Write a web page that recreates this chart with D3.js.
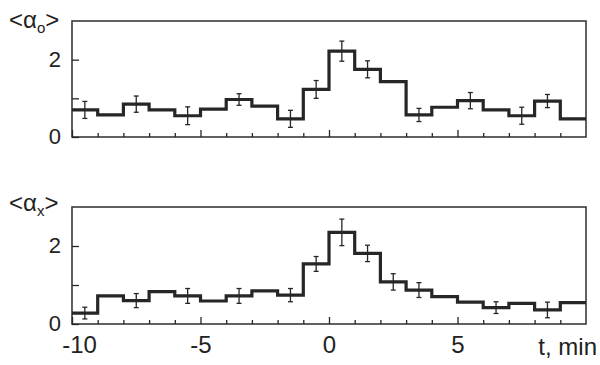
<!DOCTYPE html>
<html>
<head>
<meta charset="utf-8">
<script src="https://cdn.jsdelivr.net/npm/d3@7"></script>
<style>
  html, body { margin: 0; padding: 0; background: #fff; }
  svg { display: block; font-family: "Liberation Sans", Arial, sans-serif; }
</style>
</head>
<body>
<svg id="chart" width="600" height="365"></svg>
<script>
// ---- data ----
const binStarts = [-10, -9, -8, -7, -6, -5, -4, -3, -2, -1, 0, 1, 2, 3, 4, 5, 6, 7, 8, 9];
const binWidth = 1;
const aoValues = [0.70, 0.57, 0.85, 0.70, 0.55, 0.72, 0.97, 0.80, 0.47, 1.23, 2.22, 1.75, 1.43, 0.57, 0.77, 0.94, 0.70, 0.55, 0.93, 0.47];
const aoErrors = [0.22, null, 0.21, null, 0.23, null, 0.15, null, 0.22, 0.23, 0.26, 0.22, null, 0.17, null, 0.21, null, 0.22, 0.17, null];
const axValues = [0.28, 0.72, 0.60, 0.83, 0.72, 0.59, 0.72, 0.85, 0.74, 1.54, 2.35, 1.81, 1.08, 0.87, 0.70, 0.56, 0.42, 0.53, 0.36, 0.55];
const axErrors = [0.15, null, 0.18, null, 0.19, null, 0.19, null, 0.17, 0.19, 0.34, 0.21, 0.21, 0.19, null, null, 0.15, null, 0.20, null];
const xDomain = [-10, 10];
const xMajorTicks = [-10, -5, 0, 5];
const xMajorLabels = ["-10", "-5", "0", "5"];
const xMinorTicks = [-9, -8, -7, -6, -4, -3, -2, -1, 1, 2, 3, 4, 6, 7, 8, 9];
const yDomain = [0, 3];
const yTicks = [0, 1, 2];
const yTickLabels = ["0", "", "2"];
const xTitle = "t, min";
const panels = [
  { sym: "α", sub: "o", values: aoValues, errors: aoErrors, top: 21, bottom: 137, labelY: 28, showX: false },
  { sym: "α", sub: "x", values: axValues, errors: axErrors, top: 207, bottom: 324, labelY: 211, showX: true }
];

// ---- drawing ----
const svg = d3.select("#chart");
const left = 72, right = 586;
const x = d3.scaleLinear().domain(xDomain).range([left, right]);
const ink = "#262626";

panels.forEach(p => {
  const y = d3.scaleLinear().domain(yDomain).range([p.bottom, p.top]);
  const g = svg.append("g");

  // frame
  g.append("rect")
    .attr("x", left).attr("y", p.top)
    .attr("width", right - left).attr("height", p.bottom - p.top)
    .attr("fill", "none").attr("stroke", "#3a3a3a").attr("stroke-width", 1.6);

  // minor x ticks
  const minor = g.append("g").attr("transform", `translate(0,${p.bottom})`)
    .call(d3.axisBottom(x).tickValues(xMinorTicks).tickSize(-4).tickFormat(""));
  // major x ticks
  const major = g.append("g").attr("transform", `translate(0,${p.bottom})`)
    .call(d3.axisBottom(x).tickValues(xMajorTicks).tickSize(-7).tickPadding(12)
      .tickFormat((d, i) => p.showX ? xMajorLabels[i] : ""));
  // y ticks
  const yax = g.append("g").attr("transform", `translate(${left},0)`)
    .call(d3.axisLeft(y).tickValues(yTicks).tickSize(-7).tickPadding(11)
      .tickFormat((d, i) => yTickLabels[i]));

  [minor, major, yax].forEach(a => {
    a.select(".domain").remove();
    a.selectAll(".tick line").attr("stroke", ink).attr("stroke-width", 1.3);
    a.selectAll(".tick text").attr("fill", "#222").attr("font-family", "Liberation Sans, Arial, sans-serif");
  });
  major.selectAll(".tick text").attr("font-size", 24)
    .attr("dx", d => d === xDomain[0] ? 7 : 0);
  yax.selectAll(".tick text").attr("font-size", 22).attr("dy", "0.3em");

  // step line
  const pts = binStarts.map((s, i) => [s, p.values[i]]);
  pts.push([binStarts[binStarts.length - 1] + binWidth, p.values[p.values.length - 1]]);
  const line = d3.line().x(d => x(d[0])).y(d => y(d[1])).curve(d3.curveStepAfter);
  g.append("path").datum(pts)
    .attr("d", line).attr("fill", "none")
    .attr("stroke", ink).attr("stroke-width", 3.2).attr("stroke-linejoin", "miter");

  // error bars
  const eb = binStarts.map((s, i) => ({ c: s + binWidth / 2, v: p.values[i], e: p.errors[i] }))
    .filter(d => d.e != null);
  const ebg = g.append("g").attr("stroke", ink).attr("stroke-width", 1.3);
  ebg.selectAll("line.v").data(eb).join("line").attr("class", "v")
    .attr("x1", d => x(d.c)).attr("x2", d => x(d.c))
    .attr("y1", d => y(d.v - d.e)).attr("y2", d => y(d.v + d.e));
  ebg.selectAll("line.lo").data(eb).join("line").attr("class", "lo")
    .attr("x1", d => x(d.c) - 2.5).attr("x2", d => x(d.c) + 2.5)
    .attr("y1", d => y(d.v - d.e)).attr("y2", d => y(d.v - d.e));
  ebg.selectAll("line.hi").data(eb).join("line").attr("class", "hi")
    .attr("x1", d => x(d.c) - 2.5).attr("x2", d => x(d.c) + 2.5)
    .attr("y1", d => y(d.v + d.e)).attr("y2", d => y(d.v + d.e));

  // panel label <α_o>
  const t = svg.append("text").attr("x", 9).attr("y", p.labelY)
    .attr("font-size", 24).attr("fill", "#222");
  t.append("tspan").text("<" + p.sym);
  t.append("tspan").attr("font-size", 15).attr("dy", 5).text(p.sub);
  t.append("tspan").attr("dy", -5).text(">");
});

// x title
svg.append("text").attr("x", 597).attr("y", 355).attr("text-anchor", "end")
  .attr("font-size", 24).attr("fill", "#222").text(xTitle);
</script>
</body>
</html>
